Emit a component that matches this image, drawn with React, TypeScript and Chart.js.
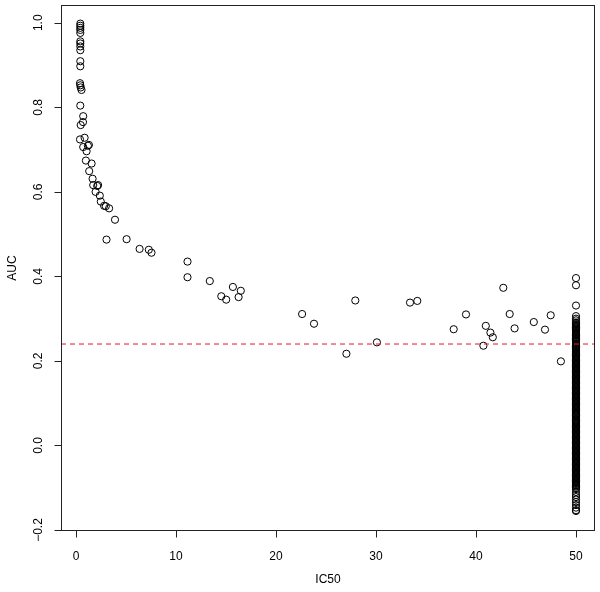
import React, { useEffect, useRef } from "react";
import { Chart, registerables } from "chart.js";

Chart.register(...registerables);

// Scattered points (IC50, AUC)
const ic50Values: number[] = [
  0.43, 0.43, 0.43, 0.43, 0.43, 0.43, 0.43, 0.43, 0.43, 0.43, 0.43, 0.40, 0.43, 0.47, 0.55,
  0.43, 0.72, 0.70, 0.47, 0.86, 0.40, 0.72, 1.19, 1.29, 1.06, 0.99, 1.56, 1.32, 1.66, 1.72,
  2.12, 2.21, 1.96, 2.38, 2.48, 2.81, 2.98, 3.31, 3.90, 3.05, 5.06, 6.36, 7.28, 7.55, 11.15,
  11.15, 13.38, 15.69, 16.48, 14.53, 15.02, 16.26, 22.61, 23.8, 27.93, 27.04, 30.09, 33.4,
  34.13, 37.77, 39.0, 40.74, 40.98, 41.44, 41.68, 42.73, 43.37, 43.86, 45.78, 46.9, 47.47, 48.49,
];
const aucValues: number[] = [
  0.998, 0.993, 0.988, 0.983, 0.976, 0.956, 0.951, 0.944, 0.935, 0.909, 0.897, 0.857, 0.852, 0.847, 0.841,
  0.804, 0.779, 0.765, 0.758, 0.728, 0.724, 0.706, 0.709, 0.711, 0.696, 0.674, 0.667, 0.649, 0.631, 0.616,
  0.614, 0.616, 0.6, 0.591, 0.577, 0.567, 0.566, 0.561, 0.534, 0.487, 0.488, 0.465, 0.463, 0.456, 0.435,
  0.398, 0.389, 0.375, 0.366, 0.353, 0.345, 0.351, 0.311, 0.288, 0.343, 0.217, 0.244, 0.338,
  0.342, 0.275, 0.31, 0.236, 0.283, 0.267, 0.256, 0.373, 0.311, 0.277, 0.292, 0.274, 0.308, 0.199,
];

// Capped IC50 column (IC50 = 50)
const cappedIC50 = 50;
const cappedAUC: number[] = [
  0.396, 0.379, 0.331, 0.306, 0.300,
  0.296, 0.291, 0.287, 0.283, 0.279, 0.275, 0.271, 0.268, 0.264, 0.26, 0.257, 0.253, 0.249, 0.245,
  0.242, 0.238, 0.234, 0.23, 0.226, 0.223, 0.219, 0.215, 0.211, 0.207, 0.203, 0.199, 0.195, 0.191,
  0.187, 0.183, 0.179, 0.175, 0.171, 0.167, 0.163, 0.159, 0.155, 0.151, 0.147, 0.143, 0.139, 0.135,
  0.131, 0.127, 0.123, 0.119, 0.115, 0.111, 0.107, 0.103, 0.099, 0.095, 0.091, 0.087, 0.083, 0.079,
  0.075, 0.071, 0.067, 0.063, 0.059, 0.055, 0.051, 0.047, 0.043, 0.039, 0.035, 0.031, 0.027, 0.023,
  0.019, 0.015, 0.011, 0.007, 0.003, -0.001, -0.005, -0.009, -0.013, -0.017, -0.021, -0.025, -0.029,
  -0.033, -0.037, -0.041, -0.045, -0.049, -0.053, -0.057, -0.061, -0.065, -0.069, -0.073, -0.077,
  -0.081, -0.085, -0.089, -0.093, -0.097, -0.103, -0.11, -0.117, -0.122, -0.128, -0.134, -0.141,
  -0.147, -0.153, -0.155,
  0.289, 0.285, 0.281, 0.277, 0.273, 0.266, 0.262, 0.255, 0.251, 0.247, 0.24, 0.236, 0.232, 0.228,
  0.221, 0.217, 0.213, 0.209, 0.205, 0.201, 0.197, 0.193, 0.189, 0.185, 0.181, 0.177, 0.173, 0.169,
  0.165, 0.161, 0.157, 0.153, 0.149, 0.145, 0.141, 0.137, 0.133, 0.129, 0.125, 0.121, 0.117, 0.113,
  0.109, 0.105, 0.101, 0.097, 0.093, 0.089, 0.085, 0.081, 0.077, 0.073, 0.069, 0.061, 0.057, 0.053,
  0.049, 0.045, 0.041, 0.037, 0.033, 0.029, 0.025, 0.021, 0.017, 0.013, 0.009, 0.005, 0.001, -0.003,
  -0.007, -0.011, -0.015, -0.019, -0.023, -0.027, -0.031, -0.035, -0.039, -0.043, -0.047, -0.051,
  -0.055, -0.059, -0.063, -0.067, -0.071, -0.075, -0.079, -0.083, -0.087, -0.091, -0.095, -0.1,
];

const thresholdAUC = 0.24;
const xTicks: number[] = [0, 10, 20, 30, 40, 50];
const yTicks: number[] = [-0.2, 0.0, 0.2, 0.4, 0.6, 0.8, 1.0];
const yTickLabels: string[] = ["\u22120.2", "0.0", "0.2", "0.4", "0.6", "0.8", "1.0"];
const xTitle = "IC50";
const yTitle = "AUC";

const X_MIN = -1.5;
const X_MAX = 51.9;
const Y_MIN = -0.2023;
const Y_MAX = 1.042;

const FONT = '12px "Liberation Sans", Arial, Helvetica, sans-serif';

const rAxesPlugin = {
  id: "rAxes",
  afterDraw(chart: any) {
    const { ctx, chartArea, scales } = chart;
    const xs = scales.x;
    const ys = scales.y;
    ctx.save();
    ctx.strokeStyle = "#222";
    ctx.lineWidth = 1;
    ctx.strokeRect(
      Math.round(chartArea.left) + 0.5,
      Math.round(chartArea.top) + 0.5,
      Math.round(chartArea.right - chartArea.left) - 1,
      Math.round(chartArea.bottom - chartArea.top) - 1
    );
    ctx.fillStyle = "#000";
    ctx.font = FONT;
    const bottom = Math.round(chartArea.bottom) - 0.5;
    ctx.beginPath();
    xTicks.forEach((v) => {
      const px = Math.round(xs.getPixelForValue(v)) + 0.5;
      ctx.moveTo(px, bottom);
      ctx.lineTo(px, bottom + 7);
    });
    ctx.stroke();
    ctx.textAlign = "center";
    ctx.textBaseline = "alphabetic";
    xTicks.forEach((v) => {
      const px = xs.getPixelForValue(v);
      ctx.fillText(String(v), px, 560);
    });
    ctx.fillText(xTitle, (chartArea.left + chartArea.right) / 2, 583);
    const left = Math.round(chartArea.left) + 0.5;
    ctx.beginPath();
    yTicks.forEach((v) => {
      const py = Math.round(ys.getPixelForValue(v)) + 0.5;
      ctx.moveTo(left, py);
      ctx.lineTo(left - 7, py);
    });
    ctx.stroke();
    yTicks.forEach((v, i) => {
      const py = ys.getPixelForValue(v);
      ctx.save();
      ctx.translate(42, py);
      ctx.rotate(-Math.PI / 2);
      ctx.textAlign = "center";
      ctx.fillText(yTickLabels[i], 0, 0);
      ctx.restore();
    });
    ctx.save();
    ctx.translate(16, (chartArea.top + chartArea.bottom) / 2);
    ctx.rotate(-Math.PI / 2);
    ctx.textAlign = "center";
    ctx.fillText(yTitle, 0, 0);
    ctx.restore();
    ctx.restore();
  },
};

export default function App() {
  const canvasRef = useRef<HTMLCanvasElement | null>(null);

  useEffect(() => {
    document.body.style.margin = "0";
    document.body.style.background = "#fff";
    const canvas = canvasRef.current;
    if (!canvas) return;

    const points = ic50Values.map((x, i) => ({ x, y: aucValues[i] }));
    const capped = cappedAUC.map((y) => ({ x: cappedIC50, y }));

    const chart = new Chart(canvas, {
      type: "scatter",
      data: {
        datasets: [
          {
            type: "line",
            label: "threshold",
            data: [
              { x: X_MIN, y: thresholdAUC },
              { x: X_MAX, y: thresholdAUC },
            ],
            borderColor: "#e0182a",
            borderWidth: 1,
            borderDash: [5, 4],
            pointRadius: 0,
            fill: false,
          },
          {
            label: "points",
            data: points.concat(capped),
            pointStyle: "circle",
            pointRadius: 3.6,
            pointBorderWidth: 1,
            borderColor: "#000",
            backgroundColor: "rgba(0,0,0,0)",
            pointBackgroundColor: "rgba(0,0,0,0)",
            pointBorderColor: "#000",
          },
        ],
      },
      options: {
        responsive: false,
        animation: false,
        events: [],
        layout: { padding: { left: 61, right: 1, top: 1, bottom: 61 } },
        plugins: {
          legend: { display: false },
          tooltip: { enabled: false },
        },
        scales: {
          x: { type: "linear", min: X_MIN, max: X_MAX, display: false },
          y: { type: "linear", min: Y_MIN, max: Y_MAX, display: false },
        },
      },
      plugins: [rAxesPlugin],
    });
    return () => chart.destroy();
  }, []);

  return (
    <div style={{ position: "absolute", left: 0, top: 0, width: 600, height: 592, background: "#fff" }}>
      <canvas ref={canvasRef} width={600} height={592} style={{ display: "block" }} />
    </div>
  );
}
